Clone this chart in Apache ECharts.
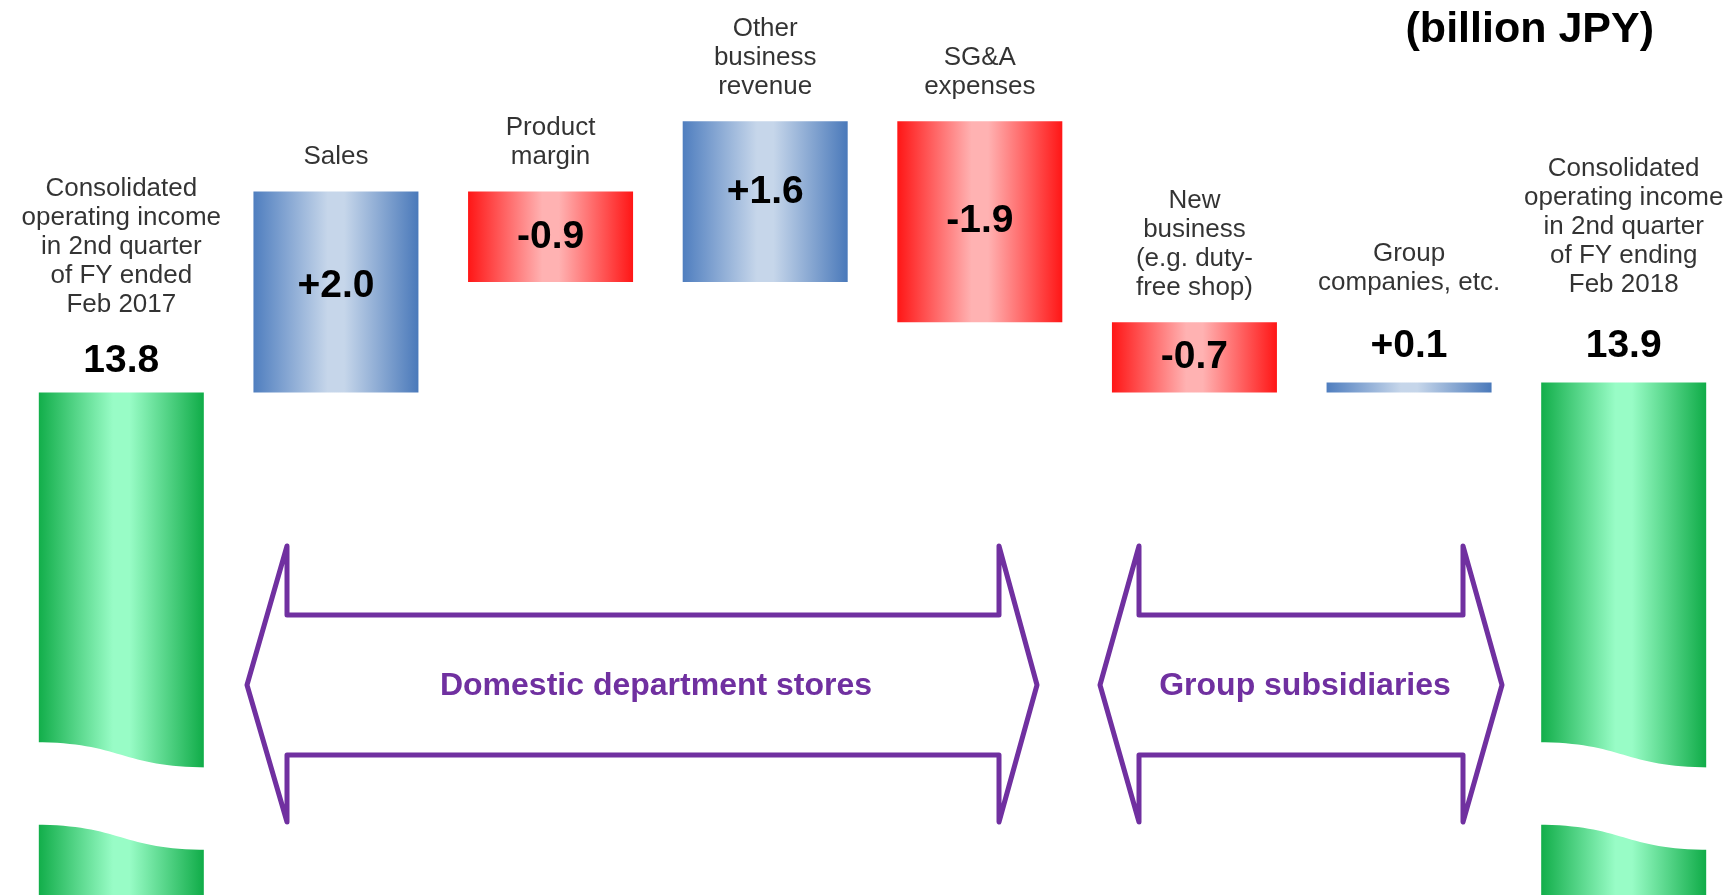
<!DOCTYPE html>
<html>
<head>
<meta charset="utf-8">
<script src="https://cdn.jsdelivr.net/npm/echarts@6/dist/echarts.min.js"></script>
<style>
  html, body { margin: 0; padding: 0; background: #fff; }
  #main { width: 1735px; height: 895px; }
</style>
</head>
<body>
<div id="main"></div>
<script>
// categories (left total, six drivers, right total)
const categories = [
  'Consolidated\noperating income\nin 2nd quarter\nof FY ended\nFeb 2017',
  'Sales',
  'Product\nmargin',
  'Other\nbusiness\nrevenue',
  'SG&A\nexpenses',
  'New\nbusiness\n(e.g. duty-\nfree shop)',
  'Group\ncompanies, etc.',
  'Consolidated\noperating income\nin 2nd quarter\nof FY ending\nFeb 2018'
];
const startTotal = 13.8;
const endTotal = 13.9;
// bar heights as drawn (SG&A bar is drawn about 2.0 tall)
const deltas = [2.0, -0.9, 1.6, -2.0, -0.7, 0.1];
const valueLabels = ['13.8', '+2.0', '-0.9', '+1.6', '-1.9', '-0.7', '+0.1', '13.9'];
// axis break on the two total bars (value units)
const breakUpper = 10.32;
const breakLower = 9.5;
const breakTilt = 0.25;

const FONT = "'Liberation Sans', Arial, sans-serif";
const PURPLE = '#7030a0';

function grad(edgeL, mid, edgeR) {
  return new echarts.graphic.LinearGradient(0, 0, 1, 0, [
    { offset: 0, color: edgeL },
    { offset: 0.45, color: mid },
    { offset: 0.55, color: mid },
    { offset: 1, color: edgeR }
  ]);
}
const blueFill = () => grad('#4f7ebf', '#c6d6ea', '#4a79ba');
const redFill = () => grad('#ff1616', '#ffb2b2', '#ff1616');
const greenFill = () => grad('#12ae4a', '#98fcc6', '#10ac48');

// waterfall pieces
const baseData = ['-'];
const deltaData = ['-'];
const tagData = [];
tagData.push({ value: [0, startTotal], label: { distance: 73 } });
let running = startTotal;
deltas.forEach(function (d, k) {
  const i = k + 1;
  const lo = Math.min(running, running + d);
  const hi = Math.max(running, running + d);
  baseData.push(lo);
  const item = {
    value: Math.abs(d),
    itemStyle: { color: d >= 0 ? blueFill() : redFill() },
    label: { formatter: valueLabels[i] }
  };
  if (i === 1) item.label.offset = [0, -6];
  if (i === 3) item.label.offset = [0, -9];
  const small = Math.abs(d) < 0.3;
  if (small) {
    item.label.position = 'top';
    item.label.distance = 15;
  }
  deltaData.push(item);
  tagData.push({ value: [i, hi], label: { distance: small ? 85 : 20 } });
  running += d;
});
baseData.push('-');
deltaData.push('-');
tagData.push({ value: [7, endTotal], label: { distance: 83 } });

const totalData = categories.map(function (c, i) {
  if (i === 0) return { value: startTotal, label: { formatter: valueLabels[0], distance: 10 } };
  if (i === 7) return { value: endTotal, label: { formatter: valueLabels[7], distance: 15 } };
  return '-';
});

const breakData = [[0, breakUpper, breakLower], [7, breakUpper, breakLower]];

function renderBreak(params, api) {
  const i = api.value(0);
  const up = api.value(1);
  const low = api.value(2);
  const xc = api.coord([i, up])[0];
  const half = 165 / 2 + 4;
  const x0 = xc - half, x1 = xc + half, xm = xc;
  const a1 = api.coord([i, up])[1];
  const b1 = api.coord([i, up - breakTilt])[1];
  const a2 = api.coord([i, low])[1];
  const b2 = api.coord([i, low - breakTilt])[1];
  const d = 'M' + x0 + ' ' + a1 +
    ' C' + xm + ' ' + a1 + ' ' + xm + ' ' + b1 + ' ' + x1 + ' ' + b1 +
    ' L' + x1 + ' ' + b2 +
    ' C' + xm + ' ' + b2 + ' ' + xm + ' ' + a2 + ' ' + x0 + ' ' + a2 + ' Z';
  return { type: 'path', shape: { pathData: d }, style: { fill: '#fff' } };
}

function arrowPoints(tipL, notchL, notchR, tipR) {
  const yMid = 685, yTop = 546, yIn1 = 615, yIn2 = 755, yBot = 822;
  return [
    [tipL, yMid], [notchL, yTop], [notchL, yIn1], [notchR, yIn1], [notchR, yTop],
    [tipR, yMid], [notchR, yBot], [notchR, yIn2], [notchL, yIn2], [notchL, yBot]
  ];
}

var myChart = echarts.init(document.getElementById('main'));
var option = {
  backgroundColor: '#fff',
  animation: false,
  grid: { left: 14, right: 4, top: 71, bottom: 0 },
  xAxis: {
    type: 'category',
    data: categories,
    show: false
  },
  yAxis: {
    type: 'value',
    min: 8.8,
    max: 17,
    show: false,
    splitLine: { show: false }
  },
  series: [
    {
      name: 'base',
      type: 'bar',
      stack: 'wf',
      barWidth: 165,
      itemStyle: { color: 'transparent' },
      silent: true,
      data: baseData
    },
    {
      name: 'change',
      type: 'bar',
      stack: 'wf',
      barWidth: 165,
      label: {
        show: true,
        position: 'inside',
        fontFamily: FONT,
        fontWeight: 'bold',
        fontSize: 39,
        lineHeight: 42,
        color: '#000'
      },
      data: deltaData
    },
    {
      name: 'total',
      type: 'bar',
      stack: 'wf',
      barWidth: 165,
      itemStyle: { color: greenFill() },
      label: {
        show: true,
        position: 'top',
        fontFamily: FONT,
        fontWeight: 'bold',
        fontSize: 39,
        lineHeight: 42,
        color: '#000'
      },
      data: totalData
    },
    {
      name: 'break',
      type: 'custom',
      z: 5,
      silent: true,
      renderItem: renderBreak,
      data: breakData
    },
    {
      name: 'names',
      type: 'scatter',
      symbolSize: 0,
      silent: true,
      label: {
        show: true,
        position: 'top',
        fontFamily: FONT,
        fontSize: 26,
        lineHeight: 29,
        color: '#000',
        align: 'center',
        formatter: function (p) { return categories[p.value[0]]; }
      },
      data: tagData
    }
  ],
  graphic: [
    {
      type: 'text',
      right: 81,
      top: 9,
      style: {
        text: '(billion JPY)',
        font: 'bold 43px ' + FONT,
        fill: '#000'
      }
    },
    {
      type: 'polygon',
      shape: { points: arrowPoints(247, 287, 999, 1037) },
      style: { fill: 'none', stroke: PURPLE, lineWidth: 5, lineJoin: 'round' }
    },
    {
      type: 'polygon',
      shape: { points: arrowPoints(1100, 1139, 1463, 1502) },
      style: { fill: 'none', stroke: PURPLE, lineWidth: 5, lineJoin: 'round' }
    },
    {
      type: 'text',
      x: 656,
      y: 686,
      style: {
        text: 'Domestic department stores',
        font: 'bold 32px ' + FONT,
        fill: PURPLE,
        align: 'center',
        verticalAlign: 'middle'
      }
    },
    {
      type: 'text',
      x: 1305,
      y: 686,
      style: {
        text: 'Group subsidiaries',
        font: 'bold 32px ' + FONT,
        fill: PURPLE,
        align: 'center',
        verticalAlign: 'middle'
      }
    }
  ]
};
myChart.setOption(option);
</script>
</body>
</html>
